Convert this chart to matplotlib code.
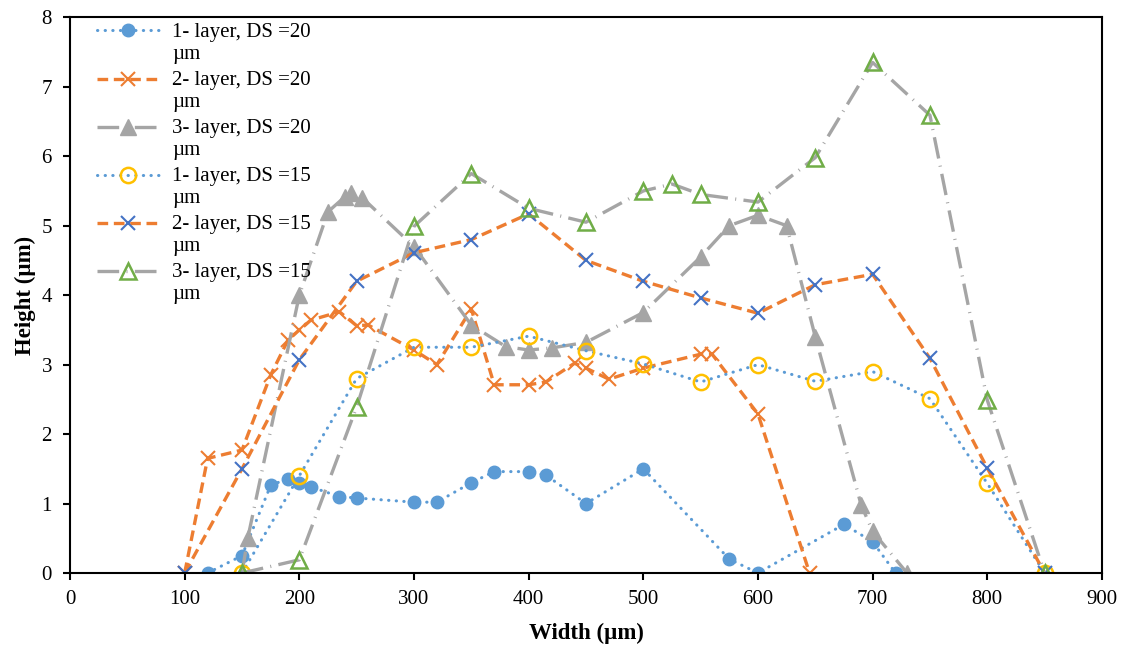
import numpy as np
import matplotlib
matplotlib.use("Agg")
import matplotlib.pyplot as plt
from matplotlib.legend_handler import HandlerLine2D

plt.rcParams["font.family"] = ["Liberation Serif", "DejaVu Serif"]

# 1- layer, DS = 20 µm
x1 = [120, 150, 175, 190, 200, 210, 235, 250, 300, 320, 350, 370, 400, 415, 450, 500, 575, 600, 675, 700, 720]
y1 = [0, 0.25, 1.26, 1.36, 1.30, 1.24, 1.10, 1.08, 1.02, 1.02, 1.30, 1.46, 1.46, 1.41, 1.0, 1.50, 0.20, 0, 0.70, 0.45, 0]

# 2- layer, DS = 20 µm
x2 = [100, 120, 150, 175, 190, 200, 210, 235, 250, 260, 300, 320, 350, 370, 400, 415, 440, 450, 470, 500, 550, 560, 600, 645]
y2 = [0, 1.65, 1.77, 2.85, 3.35, 3.50, 3.64, 3.76, 3.56, 3.57, 3.21, 3.0, 3.80, 2.71, 2.71, 2.75, 3.02, 2.95, 2.79, 2.95, 3.15, 3.15, 2.29, 0]

# 3- layer, DS = 20 µm
x3 = [150, 155, 200, 225, 240, 245, 255, 300, 350, 380, 400, 420, 450, 500, 550, 575, 600, 625, 650, 690, 700, 730]
y3 = [0, 0.5, 4.0, 5.2, 5.42, 5.47, 5.40, 4.70, 3.57, 3.26, 3.21, 3.24, 3.32, 3.75, 4.55, 5.0, 5.15, 5.0, 3.40, 0.98, 0.6, 0]

# 1- layer, DS = 15 µm
x4 = [150, 200, 250, 300, 350, 400, 450, 500, 550, 600, 650, 700, 750, 800, 850]
y4 = [0, 1.40, 2.80, 3.25, 3.25, 3.41, 3.20, 3.01, 2.75, 3.0, 2.76, 2.90, 2.51, 1.29, 0]

# 2- layer, DS = 15 µm
x5 = [100, 150, 200, 250, 300, 350, 400, 450, 500, 550, 600, 650, 700, 750, 800, 850]
y5 = [0, 1.50, 3.07, 4.20, 4.61, 4.80, 5.17, 4.50, 4.20, 3.96, 3.74, 4.15, 4.30, 3.09, 1.51, 0]

# 3- layer, DS = 15 µm
x6 = [150, 200, 250, 300, 350, 400, 450, 500, 525, 550, 600, 650, 700, 750, 800, 850]
y6 = [0, 0.19, 2.39, 4.99, 5.75, 5.25, 5.05, 5.50, 5.60, 5.45, 5.34, 5.98, 7.35, 6.59, 2.49, 0]

labels = [
    "1- layer, DS =20\nµm",
    "2- layer, DS =20\nµm",
    "3- layer, DS =20\nµm",
    "1- layer, DS =15\nµm",
    "2- layer, DS =15\nµm",
    "3- layer, DS =15\nµm",
]

blue = "#5B9BD5"
orange = "#ED7D31"
gray = "#A5A5A5"
dotted = (0, (0.1, 2.4))
dashed = (0, (3.2, 1.7))
dashdot = (0, (6.5, 2.2, 0.3, 2.2))


class FirstLineHandler(HandlerLine2D):
    # put the legend sample next to the first line of a two-line label
    def create_artists(self, legend, orig_handle, xdescent, ydescent,
                       width, height, fontsize, trans):
        arts = super().create_artists(legend, orig_handle, xdescent, ydescent,
                                      width, height, fontsize, trans)
        for a in arts:
            a.set_ydata(np.asarray(a.get_ydata()) + 0.6 * fontsize)
        return arts


fig = plt.figure(figsize=(11.31, 6.45), dpi=100)
ax = fig.add_axes([0.0619, 0.1116, 0.9124, 0.8616])

ax.plot(x1, y1, linestyle=dotted, dash_capstyle="round", color=blue, lw=2.2,
        marker="o", ms=9, mfc=blue, mec=blue, label=labels[0])
ax.plot(x2, y2, linestyle=dashed, color=orange, lw=2.4,
        marker="x", ms=10, mew=1.5, mec=orange, label=labels[1])
ax.plot(x3, y3, linestyle=dashdot, color=gray, lw=2.4,
        marker="^", ms=11, mfc=gray, mec=gray, label=labels[2])
ax.plot(x4, y4, linestyle=dotted, dash_capstyle="round", color=blue, lw=2.2,
        marker="o", ms=11, mfc="none", mec="#FFC000", mew=1.8, label=labels[3])
ax.plot(x5, y5, linestyle=dashed, color=orange, lw=2.4,
        marker="x", ms=10, mew=1.5, mec="#4472C4", label=labels[4])
ax.plot(x6, y6, linestyle=dashdot, color=gray, lw=2.4,
        marker="^", ms=11, mfc="none", mec="#70AD47", mew=1.8, label=labels[5])

ax.set_xlim(0, 900)
ax.set_ylim(0, 8)
ax.set_xticks(range(0, 901, 100))
ax.set_yticks(range(0, 9))
ax.tick_params(direction="out", length=5, width=1.5, labelsize=15, colors="black")
ax.tick_params(axis="x", pad=7)
ax.tick_params(axis="y", pad=8)
for s in ax.spines.values():
    s.set_linewidth(1.5)
    s.set_color("black")

ax.set_xlabel("Width (µm)", fontsize=16.5, fontweight="bold", labelpad=10)
ax.set_ylabel("Height (µm)", fontsize=16.5, fontweight="bold", labelpad=4)

leg = ax.legend(loc="upper left", bbox_to_anchor=(0.026, 0.99), frameon=False,
                fontsize=15, handlelength=3.0, handletextpad=0.6,
                labelspacing=0.35, numpoints=1, borderaxespad=0, borderpad=0,
                handler_map={plt.Line2D: FirstLineHandler()})

plt.savefig("out.png", dpi=100)
